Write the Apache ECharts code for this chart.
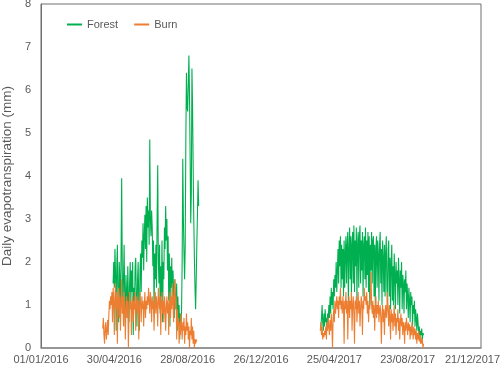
<!DOCTYPE html>
<html>
<head>
<meta charset="utf-8">
<script src="https://cdn.jsdelivr.net/npm/echarts@6/dist/echarts.min.js"></script>
<style>html,body{margin:0;padding:0;background:#fff}#c{width:500px;height:367px}</style>
</head>
<body>
<div id="c"></div>
<script>
// x values are days since 01/01/2016
const xTicks = [0, 120, 240, 360, 480, 600, 720];
const yTicks = [0, 1, 2, 3, 4, 5, 6, 7, 8];

const forest2016Start = 118;
const forest2016 = [1.5,2.0,1.4,2.3,1.7,0.4,1.9,2.4,1.2,0.6,2.0,1.6,0.9,2.2,3.95,1.8,0.8,1.6,2.4,1.1,0.5,1.7,1.3,0.7,1.9,1.2,0.6,1.5,2.0,1.0,1.8,1.3,2.0,0.3,1.4,0.9,1.9,2.1,1.2,0.5,1.6,2.0,1.0,0.4,1.8,2.2,1.3,2.5,2.1,2.9,1.8,2.6,3.1,2.3,3.3,2.0,3.5,2.8,3.2,2.4,4.85,3.0,2.6,3.2,2.8,1.9,2.5,0.8,2.2,1.6,2.4,1.4,3.0,4.25,2.0,1.5,2.4,0.8,1.9,1.2,2.5,0.6,2.0,1.6,2.8,2.3,3.3,2.5,3.0,1.8,2.6,1.1,2.2,0.5,1.9,1.4,2.1,1.0,1.8,1.3,0.7,1.6,1.1,0.9,1.5,0.4,1.2,0.6,1.0,0.2,0.8,0.4,0.9,2.0,4.4,3.0,2.2,1.6,2.4,4.8,6.4,5.6,5.5,6.1,6.8,5.9,4.5,2.9,3.6,6.5,5.6,4.2,3.0,2.1,1.4,0.9,1.6,2.4,3.1,3.9,3.3];

const burn2016Start = 101;
const burn2016 = [0.45,0.7,0.3,0.1,0.5,0.6,0.2,0.4,0.65,0.3,0.75,1.1,0.9,1.2,1.0,1.3,0.6,1.4,1.1,0.3,1.2,1.5,0.9,1.3,0.1,1.1,1.4,0.7,1.2,0.4,1.0,1.6,0.8,1.2,0.5,1.3,1.0,0.2,0.9,1.2,0.7,1.1,0.0,0.8,1.3,0.9,1.1,0.3,1.0,1.2,0.6,1.1,0.9,1.3,0.4,1.0,1.2,0.8,1.1,0.2,0.9,1.3,1.0,0.6,1.2,0.9,1.1,0.5,1.0,1.3,0.7,1.1,0.9,1.2,1.0,1.4,1.1,0.8,1.3,1.1,0.6,1.2,0.9,1.1,0.4,1.0,1.3,0.8,1.2,1.0,0.5,1.4,1.1,0.9,1.2,0.3,1.0,1.3,0.8,1.1,0.6,1.2,1.0,0.4,0.9,1.2,0.8,1.1,0.3,1.0,1.3,0.7,1.2,0.9,1.5,1.1,0.6,1.3,1.6,0.9,1.2,0.2,0.9,0.5,0.7,0.1,0.6,0.3,0.8,0.5,0.2,0.6,0.4,0.7,0.1,0.5,0.3,0.8,0.4,0.6,0.2,0.5,0.0,0.4,0.3,0.7,0.2,0.5,0.1,0.4,0.0,0.2,0.1,0.2,0.15];

const forest2017Start = 458;
const forest2017 = [0.5,0.7,1.0,0.6,0.4,0.8,0.5,0.9,0.6,0.7,0.4,0.8,0.6,1.0,0.7,1.2,0.8,1.4,1.0,1.3,0.9,1.6,1.2,1.7,1.4,
  2.0,1.3,1.8,2.3,1.5,2.5,1.9,2.6,1.4,2.4,1.6,2.3,1.2,2.5,1.4,
  2.2,2.6,1.5,2.4,2.7,1.0,2.3,2.8,1.6,2.6,1.2,2.4,2.7,1.5,2.85,1.3,2.5,1.9,2.8,1.1,2.4,2.7,1.4,2.6,2.85,1.5,2.5,1.8,2.7,1.2,2.4,2.6,1.6,2.8,1.4,2.5,1.7,2.7,1.3,2.6,1.0,2.4,1.8,
  2.7,1.5,2.5,2.6,1.2,2.4,1.0,2.3,2.6,1.4,2.5,2.2,1.1,2.4,2.7,1.5,2.3,1.0,2.5,2.1,1.3,2.4,1.2,2.2,2.6,1.4,1.0,2.3,2.5,1.2,2.1,0.9,2.0,2.4,1.1,1.9,1.0,2.2,1.7,0.9,
  2.0,1.5,1.8,1.0,2.1,1.6,0.8,1.8,1.4,2.0,0.9,1.7,1.5,0.8,1.6,1.3,1.8,0.9,1.5,1.2,0.7,1.4,1.1,0.6,1.3,1.0,1.2,0.5,1.0,0.8,1.1,0.5,0.9,0.7,0.4,0.8,0.6,0.3,0.5,0.2,0.4,0.3,0.45,0.2,0.35,0.3];

const burn2017Start = 457;
const burn2017 = [0.4,0.6,0.3,0.5,0.2,0.35,0.25,0.4,0.3,0.5,0.2,0.6,0.4,0.7,0.5,0.3,0.65,0.4,0.8,0.5,0.0,0.7,0.9,0.6,1.1,0.8,1.0,1.2,0.9,1.1,0.7,1.2,1.0,1.4,0.9,1.1,0.8,1.2,1.0,0.1,1.1,0.9,1.3,0.8,1.1,0.2,1.0,1.2,0.7,1.1,0.9,1.3,0.4,1.0,1.2,0.8,0.1,1.1,0.9,1.2,0.6,1.0,1.3,0.8,1.1,0.5,0.9,1.2,1.0,0.3,1.1,0.9,1.4,1.1,1.2,1.0,1.3,0.8,1.1,0.6,1.0,0.9,1.2,1.77,1.0,0.8,1.1,0.7,1.0,0.4,0.9,1.2,0.7,1.0,0.8,1.1,0.6,0.9,1.0,0.7,0.1,0.8,1.0,0.6,0.9,0.3,0.8,1.0,0.7,0.9,1.3,0.8,0.5,1.0,0.7,0.2,0.9,0.6,0.8,0.4,0.7,1.0,0.5,0.8,0.3,0.7,0.6,0.9,0.4,0.7,0.2,0.6,0.8,0.5,0.7,0.3,0.6,0.5,0.1,0.6,0.4,0.7,0.5,0.3,0.6,0.4,0.55,0.2,0.5,0.3,0.6,0.4,0.2,0.5,0.3,0.45,0.2,0.4,0.1,0.35,0.2,0.4,0.15,0.3,0.1,0.25,0.1,0.2,0.0,0.1];

function pairs(start, vals) { return vals.map((v, i) => [start + i, v]); }
function fmtDate(v) {
  const d = new Date(Date.UTC(2016, 0, 1) + v * 86400000);
  const dd = String(d.getUTCDate()).padStart(2, '0');
  const mm = String(d.getUTCMonth() + 1).padStart(2, '0');
  const s = dd + '/' + mm + '/' + d.getUTCFullYear();
  return v === xTicks[xTicks.length - 1] ? '{last|' + s + '}' : s;
}

const GREEN = '#00B050', ORANGE = '#ED7D31', TXT = '#595959';
const chart = echarts.init(document.getElementById('c'), null, {renderer: 'canvas'});
const lineStyleF = {color: GREEN, width: 1.1};
const lineStyleB = {color: ORANGE, width: 1.1};
chart.setOption({
  animation: false,
  backgroundColor: '#fff',
  textStyle: {fontFamily: 'Liberation Sans'},
  grid: {left: 41, right: 19, top: 4, bottom: 19, show: true, borderColor: '#6e6e6e', borderWidth: 1, containLabel: false, outerBoundsMode: 'none'},
  legend: {
    data: ['Forest', 'Burn'], left: 67, top: 19, padding: 0,
    icon: 'rect', itemWidth: 15, itemHeight: 2, itemGap: 16,
    textStyle: {color: TXT, fontSize: 11, fontFamily: 'Liberation Sans'}
  },
  xAxis: {
    type: 'value', min: xTicks[0], max: xTicks[xTicks.length - 1], interval: 120,
    splitLine: {show: false}, axisTick: {show: false},
    axisLine: {show: true, lineStyle: {color: '#8c8c8c', width: 1.5}},
    axisLabel: {color: TXT, fontSize: 11, margin: 6, formatter: fmtDate, showMinLabel: true, showMaxLabel: true,
      rich: {last: {color: TXT, fontSize: 11, width: 72, align: 'left', fontFamily: 'Liberation Sans'}}}
  },
  yAxis: {
    type: 'value', min: yTicks[0], max: yTicks[yTicks.length - 1], interval: 1,
    splitLine: {show: false}, axisTick: {show: false},
    axisLine: {show: true, lineStyle: {color: '#6e6e6e', width: 1}},
    axisLabel: {color: TXT, fontSize: 11, margin: 10},
    name: 'Daily evapotranspiration (mm)', nameLocation: 'middle', nameGap: 21,
    nameTextStyle: {color: TXT, fontSize: 13.5, fontFamily: 'Liberation Sans'}
  },
  series: [
    {name: 'Forest', type: 'line', data: pairs(forest2016Start, forest2016), showSymbol: false, symbol: 'none', lineStyle: lineStyleF, itemStyle: {color: GREEN}},
    {name: 'Forest', type: 'line', data: pairs(forest2017Start, forest2017), showSymbol: false, symbol: 'none', lineStyle: lineStyleF, itemStyle: {color: GREEN}},
    {name: 'Burn', type: 'line', data: pairs(burn2016Start, burn2016), showSymbol: false, symbol: 'none', lineStyle: lineStyleB, itemStyle: {color: ORANGE}},
    {name: 'Burn', type: 'line', data: pairs(burn2017Start, burn2017), showSymbol: false, symbol: 'none', lineStyle: lineStyleB, itemStyle: {color: ORANGE}}
  ]
});
</script>
</body>
</html>
